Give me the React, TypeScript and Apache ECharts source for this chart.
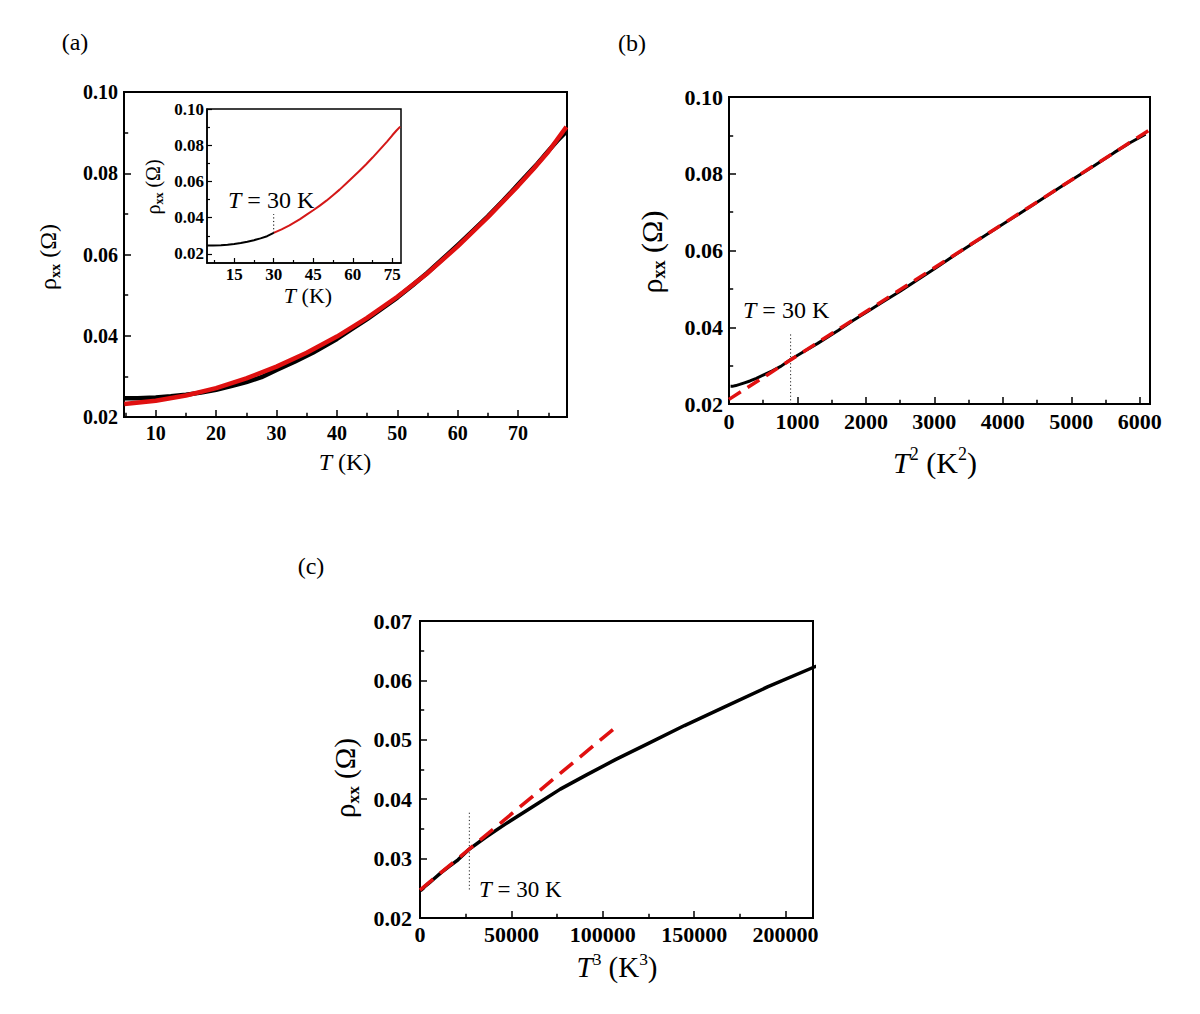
import React, { useEffect, useRef } from "react";
import * as echarts from "echarts";

// ---- data ----
const T_K = [4.8, 7, 10, 12.5, 15, 17.5, 20, 22.5, 25, 27.5, 30, 33, 36, 40, 42.5, 45, 47.5, 50, 52.5, 55, 57.5, 60, 62.5, 65, 67.5, 70, 73, 75, 76.5, 78];
const RHO = [0.0246, 0.0246, 0.0248, 0.0251, 0.0255, 0.026, 0.0267, 0.0276, 0.0286, 0.0298, 0.0316, 0.0336, 0.0358, 0.0392, 0.0417, 0.0441, 0.0467, 0.0494, 0.0524, 0.0555, 0.0589, 0.0623, 0.0658, 0.0694, 0.0732, 0.0772, 0.082, 0.0855, 0.088, 0.0903];
const FIT_A_T = [4.8, 10, 15, 20, 25, 30, 35, 40, 45, 50, 55, 60, 65, 70, 72.5, 75, 78];
const FIT_A_RHO = [0.0232, 0.024, 0.0253, 0.0271, 0.0295, 0.0324, 0.0358, 0.0398, 0.0444, 0.0496, 0.0554, 0.062, 0.0692, 0.0769, 0.081, 0.0853, 0.0914];
const INSET_SPLIT_T = 30;
const FIT_B_T2 = [0, 6150];
const FIT_B_RHO = [0.0212, 0.0915];
const FIT_C_T3 = [0, 107000];
const FIT_C_RHO = [0.0247, 0.0521];
const MARK_I_X = [30, 30];
const MARK_I_Y = [0.0316, 0.042];
const MARK_B_X = [900, 900];
const MARK_B_Y = [0.02, 0.0384];
const MARK_C_X = [27000, 27000];
const MARK_C_Y = [0.0248, 0.0379];

// ---- tick values ----
const A_X_MAJOR = [10, 20, 30, 40, 50, 60, 70];
const A_X_MINOR = [5, 15, 25, 35, 45, 55, 65, 75];
const R_MAJOR = [0.02, 0.04, 0.06, 0.08, 0.1];
const R_MINOR = [0.03, 0.05, 0.07, 0.09];
const I_X_MAJOR = [15, 30, 45, 60, 75];
const I_X_MINOR = [7.5, 22.5, 37.5, 52.5, 67.5];
const B_X_MAJOR = [0, 1000, 2000, 3000, 4000, 5000, 6000];
const B_X_MINOR = [500, 1500, 2500, 3500, 4500, 5500];
const C_X_MAJOR = [0, 50000, 100000, 150000, 200000];
const C_X_MINOR = [25000, 75000, 125000, 175000];
const C_Y_MAJOR = [0.02, 0.03, 0.04, 0.05, 0.06, 0.07];
const C_Y_MINOR = [0.025, 0.035, 0.045, 0.055, 0.065];

const SERIF = "Liberation Serif, Times New Roman, Times, serif";

const zip = (xs: number[], ys: number[]) => xs.map((x, i) => [x, ys[i]]);

function axes(dim: "x" | "y", grid: number, min: number, max: number, major: number[], minor: number[], o: any) {
  const main: any = {
    type: "value", gridIndex: grid, position: dim === "x" ? "bottom" : "left", min, max,
    axisLine: { show: true, onZero: false, lineStyle: { color: "#000", width: o.lw } },
    axisTick: { show: true, inside: true, length: o.tl, customValues: major, lineStyle: { color: "#000", width: o.tw } },
    axisLabel: { show: true, customValues: major, margin: o.margin, fontSize: o.fs, fontFamily: SERIF, fontWeight: "bold", color: "#000", formatter: o.fmt },
    splitLine: { show: false },
  };
  const mn: any = {
    type: "value", gridIndex: grid, position: dim === "x" ? "bottom" : "left", min, max,
    axisLine: { show: false, onZero: false },
    axisTick: { show: true, inside: true, length: o.tl * 0.6, customValues: minor, lineStyle: { color: "#000", width: o.tw } },
    axisLabel: { show: false },
    splitLine: { show: false },
  };
  return [main, mn];
}

const f2 = (v: number) => v.toFixed(2);
const fInt = (v: number) => String(Math.round(v));

function txt(x: number, y: number, text: string, fs: number, rich: any, opts: any = {}) {
  return {
    type: "text", x, y, rotation: opts.rot || 0, z: 100,
    style: { text, fill: "#000", fontSize: fs, fontFamily: SERIF, align: opts.align || "center", verticalAlign: "middle", rich },
  };
}

function richSet(fs: number, lh = 1.15) {
  return {
    n: { fontSize: fs, fontFamily: SERIF, lineHeight: fs * lh, verticalAlign: "middle" },
    i: { fontSize: fs, fontFamily: SERIF, fontStyle: "italic", lineHeight: fs * lh, verticalAlign: "middle" },
    s: { fontSize: fs * 0.6, fontFamily: SERIF, fontWeight: "bold", lineHeight: fs * 0.6, verticalAlign: "bottom" },
    p: { fontSize: fs * 0.6, fontFamily: SERIF, lineHeight: fs * 0.6, verticalAlign: "top" },
  };
}

const rhoTitle = "{n|ρ}{s|xx}{n| (Ω)}";

export default function App() {
  const ref = useRef<HTMLDivElement>(null);
  useEffect(() => {
    if (!ref.current) return;
    const chart = echarts.init(ref.current, undefined, { renderer: "svg" });
    const blackA = zip(T_K, RHO);
    const redA = zip(FIT_A_T, FIT_A_RHO);
    const insetBlack = blackA.filter((p) => p[0] <= INSET_SPLIT_T);
    const insetRed = blackA.filter((p) => p[0] >= INSET_SPLIT_T);
    const blackB = T_K.map((t, i) => [t * t, RHO[i]]);
    const blackC = T_K.map((t, i) => [t * t * t, RHO[i]]);

    const grids = [
      { left: 124, top: 92, width: 443, height: 325 },
      { left: 207, top: 109, width: 194, height: 154 },
      { left: 729, top: 97, width: 421, height: 307 },
      { left: 420, top: 621, width: 393, height: 297 },
    ].map((g, i) => ({
      ...g, show: true, borderColor: "#000", borderWidth: i === 1 ? 1.5 : 2,
      backgroundColor: i === 1 ? "#fff" : "transparent", containLabel: false, outerBoundsMode: "none",
    }));

    const oA = { lw: 2, tl: 7, tw: 1.5, margin: 6, fs: 20 };
    const oI = { lw: 1.5, tl: 5, tw: 1.2, margin: 3, fs: 17 };
    const oB = { lw: 2, tl: 7, tw: 1.5, margin: 6, fs: 22 };
    const oC = { lw: 2, tl: 7, tw: 1.5, margin: 6, fs: 22 };

    const xAxis = [
      ...axes("x", 0, 4.75, 78.1, A_X_MAJOR, A_X_MINOR, { ...oA, fmt: fInt }),
      ...axes("x", 1, 4.7, 78.3, I_X_MAJOR, I_X_MINOR, { ...oI, fmt: fInt }),
      ...axes("x", 2, 0, 6150, B_X_MAJOR, B_X_MINOR, { ...oB, fmt: fInt }),
      ...axes("x", 3, 0, 215000, C_X_MAJOR, C_X_MINOR, { ...oC, margin: 5, fmt: fInt }),
    ];
    const yAxis = [
      ...axes("y", 0, 0.02, 0.1, R_MAJOR, R_MINOR, { ...oA, fmt: f2 }),
      ...axes("y", 1, 0.015, 0.1, R_MAJOR, R_MINOR, { ...oI, fmt: f2 }),
      ...axes("y", 2, 0.02, 0.1, R_MAJOR, R_MINOR, { ...oB, fmt: f2 }),
      ...axes("y", 3, 0.02, 0.07, C_Y_MAJOR, C_Y_MINOR, { ...oC, margin: 8, fmt: f2 }),
    ];

    const line = (xi: number, data: number[][], color: string, width: number, extra: any = {}) => ({
      type: "line", xAxisIndex: xi, yAxisIndex: xi, data, symbol: "none", smooth: false,
      lineStyle: { color, width, cap: "butt", join: "round", ...(extra.ls || {}) }, z: extra.z || 2, silent: true, clip: true,
    });

    const dots = { type: [1.2, 2.4] };
    const series = [
      line(0, blackA, "#000", 4.5),
      line(0, redA, "#e01010", 4.5, { z: 3 }),
      line(2, insetBlack, "#000", 2),
      line(2, insetRed, "#d41818", 2),
      line(2, zip(MARK_I_X, MARK_I_Y), "#000", 1, { ls: dots }),
      line(4, blackB, "#000", 3),
      line(4, zip(FIT_B_T2, FIT_B_RHO), "#e01010", 3.5, { z: 3, ls: { type: [14, 8] } }),
      line(4, zip(MARK_B_X, MARK_B_Y), "#222", 1, { ls: dots }),
      line(6, blackC, "#000", 3.5),
      line(6, zip(FIT_C_T3, FIT_C_RHO), "#e01010", 3.5, { z: 3, ls: { type: [17, 9] } }),
      line(6, zip(MARK_C_X, MARK_C_Y), "#222", 1, { ls: dots }),
    ];

    const graphic = [
      txt(75, 42, "(a)", 24, undefined),
      txt(632, 43, "(b)", 24, undefined),
      txt(311, 566, "(c)", 24, undefined),
      txt(345, 462, "{i|T}{n| (K)}", 24, richSet(24)),
      txt(48, 257, rhoTitle, 24, richSet(24), { rot: Math.PI / 2 }),
      txt(308, 295, "{i|T}{n| (K)}", 22, richSet(22, 1.0)),
      txt(153, 187, rhoTitle, 20, richSet(20), { rot: Math.PI / 2 }),
      txt(935, 462, "{i|T}{p|2}{n| (K}{p|2}{n|)}", 30, richSet(30)),
      txt(651, 252, rhoTitle, 30, richSet(30), { rot: Math.PI / 2 }),
      txt(617, 967, "{i|T}{p|3}{n| (K}{p|3}{n|)}", 29, richSet(29)),
      txt(345, 778, rhoTitle, 29, richSet(29), { rot: Math.PI / 2 }),
      txt(228, 200, "{i|T}{n| = 30 K}", 24, richSet(24, 1.0), { align: "left" }),
      txt(743, 310, "{i|T}{n| = 30 K}", 24, richSet(24, 1.0), { align: "left" }),
      txt(479, 889, "{i|T}{n| = 30 K}", 23, richSet(23, 1.0), { align: "left" }),
    ];

    chart.setOption({
      animation: false,
      backgroundColor: "#fff",
      grid: grids,
      xAxis,
      yAxis,
      series,
      graphic,
    });
    return () => chart.dispose();
  }, []);
  return <div ref={ref} style={{ position: "absolute", left: 0, top: 0, width: 1200, height: 1014 }} />;
}
